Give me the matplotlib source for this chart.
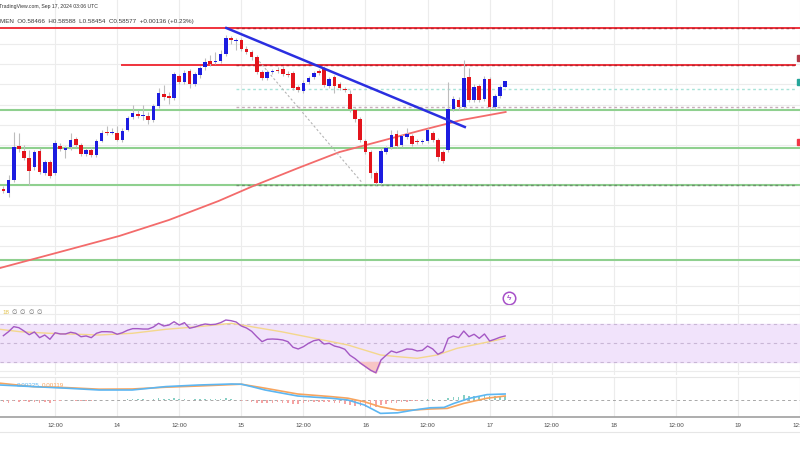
import numpy as np
import matplotlib
matplotlib.use('Agg')
import matplotlib.pyplot as plt
from matplotlib.patches import Rectangle
from matplotlib.lines import Line2D

plt.rcParams['font.family'] = ['Liberation Sans', 'DejaVu Sans']

# hourly candles, x = hours counted from 13 Sep 2024 00:00 UTC
hours = np.arange(2, 100)
opens = [0.5642, 0.5634, 0.5660, 0.5728, 0.5718, 0.5704, 0.5686, 0.5718, 0.5674, 0.5696,
         0.5674, 0.5728, 0.5720, 0.5726, 0.5742, 0.5730, 0.5712, 0.5720, 0.5710, 0.5738,
         0.5756, 0.5754, 0.5754, 0.5740, 0.5760, 0.5786, 0.5792, 0.5788, 0.5788, 0.5780,
         0.5808, 0.5832, 0.5828, 0.5824, 0.5868, 0.5856, 0.5878, 0.5852, 0.5870, 0.5886,
         0.5898, 0.5896, 0.5898, 0.5912, 0.5944, 0.5938, 0.5940, 0.5922, 0.5916, 0.5906,
         0.5876, 0.5864, 0.5876, 0.5880, 0.5882, 0.5872, 0.5874, 0.5846, 0.5838, 0.5856,
         0.5866, 0.5878, 0.5882, 0.5848, 0.5866, 0.5852, 0.5842, 0.5832, 0.5800, 0.5782,
         0.5738, 0.5716, 0.5674, 0.5654, 0.5716, 0.5726, 0.5752, 0.5730, 0.5746, 0.5748,
         0.5738, 0.5736, 0.5738, 0.5754, 0.5740, 0.5716, 0.5720, 0.5802, 0.5820, 0.5806,
         0.5866, 0.5820, 0.5848, 0.5822, 0.5862, 0.5806, 0.5828, 0.58466]
highs = [0.5648, 0.5670, 0.5756, 0.5754, 0.5730, 0.5720, 0.5720, 0.5724, 0.5700, 0.5700,
         0.5740, 0.5734, 0.5728, 0.5754, 0.5746, 0.5734, 0.5724, 0.5726, 0.5742, 0.5760,
         0.5768, 0.5764, 0.5768, 0.5764, 0.5788, 0.5810, 0.5800, 0.5810, 0.5796, 0.5812,
         0.5844, 0.5850, 0.5836, 0.5876, 0.5872, 0.5880, 0.5882, 0.5876, 0.5888, 0.5904,
         0.5910, 0.5916, 0.5920, 0.5950, 0.5948, 0.5944, 0.5944, 0.5928, 0.5920, 0.5910,
         0.5880, 0.5880, 0.5882, 0.5886, 0.5888, 0.5878, 0.5878, 0.5850, 0.5860, 0.5868,
         0.5878, 0.5882, 0.5888, 0.5866, 0.5870, 0.5856, 0.5846, 0.5840, 0.5804, 0.5786,
         0.5742, 0.5720, 0.5678, 0.5724, 0.5728, 0.5760, 0.5760, 0.5752, 0.5764, 0.5752,
         0.5742, 0.5742, 0.5764, 0.5758, 0.5744, 0.5720, 0.5856, 0.5828, 0.5826, 0.5900,
         0.5884, 0.5852, 0.5852, 0.5868, 0.5866, 0.5832, 0.5850, 0.58588]
lows = [0.5634, 0.5626, 0.5656, 0.5716, 0.5700, 0.5650, 0.5680, 0.5672, 0.5670, 0.5664,
        0.5670, 0.5718, 0.5704, 0.5720, 0.5726, 0.5708, 0.5708, 0.5706, 0.5706, 0.5736,
        0.5750, 0.5752, 0.5738, 0.5736, 0.5758, 0.5782, 0.5784, 0.5780, 0.5772, 0.5776,
        0.5804, 0.5820, 0.5812, 0.5820, 0.5852, 0.5852, 0.5844, 0.5848, 0.5864, 0.5880,
        0.5888, 0.5892, 0.5894, 0.5908, 0.5932, 0.5920, 0.5918, 0.5912, 0.5900, 0.5872,
        0.5860, 0.5860, 0.5872, 0.5874, 0.5868, 0.5866, 0.5840, 0.5836, 0.5834, 0.5852,
        0.5862, 0.5870, 0.5846, 0.5844, 0.5834, 0.5840, 0.5836, 0.5796, 0.5776, 0.5736,
        0.5712, 0.5664, 0.5650, 0.5650, 0.5712, 0.5722, 0.5724, 0.5726, 0.5742, 0.5728,
        0.5732, 0.5732, 0.5734, 0.5736, 0.5698, 0.5694, 0.5716, 0.5798, 0.5800, 0.5802,
        0.5816, 0.5816, 0.5816, 0.5818, 0.5802, 0.5802, 0.5824, 0.58454]
closes = [0.5638, 0.5660, 0.5726, 0.5722, 0.5704, 0.5678, 0.5716, 0.5676, 0.5696, 0.5668,
          0.5734, 0.5722, 0.5724, 0.5740, 0.5730, 0.5712, 0.5720, 0.5710, 0.5738, 0.5754,
          0.5754, 0.5756, 0.5740, 0.5758, 0.5784, 0.5794, 0.5788, 0.5790, 0.5780, 0.5808,
          0.5834, 0.5826, 0.5824, 0.5872, 0.5856, 0.5874, 0.5852, 0.5872, 0.5884, 0.5896,
          0.5892, 0.5898, 0.5912, 0.5944, 0.5940, 0.5940, 0.5922, 0.5916, 0.5906, 0.5876,
          0.5864, 0.5876, 0.5878, 0.5878, 0.5872, 0.5870, 0.5844, 0.5840, 0.5854, 0.5864,
          0.5874, 0.5874, 0.5850, 0.5862, 0.5848, 0.5844, 0.5840, 0.5802, 0.5782, 0.5740,
          0.5716, 0.5674, 0.5654, 0.5718, 0.5724, 0.5750, 0.5728, 0.5748, 0.5752, 0.5732,
          0.5736, 0.5738, 0.5760, 0.5740, 0.5706, 0.5698, 0.5802, 0.5822, 0.5806, 0.5864,
          0.5820, 0.5846, 0.5820, 0.5862, 0.5806, 0.5828, 0.5846, 0.58577]

# moving average (red curve), read at a few points
ma_hours = [1.35, 12.9, 24.4, 34.0, 43.6, 50.3, 59.0, 67.0, 74.3, 83.0, 90.6, 99.1]
ma_vals = [0.5484, 0.5516, 0.5548, 0.5580, 0.5618, 0.5648, 0.5684, 0.5716, 0.5736, 0.5760, 0.5780, 0.5796]

# drawn levels
red_full = 0.5964
red_part, red_part_start = 0.5890, 25.0
green_levels = [0.5800, 0.5724, 0.5650, 0.5500]
fib_start = 47.0
dotted_levels = [(0.5964, '#b3262f'), (0.5890, '#b3262f'), (0.5842, '#a8e3d8'),
                 (0.5806, '#c6aeb9'), (0.5650, '#6f8f6f')]
trend_hours, trend_vals = [45.1, 91.2], [0.5964, 0.5766]
diag_hours, diag_vals = [50.9, 71.4], [0.5904, 0.5654]

# RSI (14) and its moving average
rsi = [57.7, 61.9, 67.2, 66.1, 62.6, 58.7, 61.6, 55.6, 58.4, 53.9,
       60.8, 59.5, 59.5, 61.3, 60.2, 56.6, 57.4, 55.6, 60.2, 61.9,
       61.9, 61.6, 59.2, 60.8, 63.4, 65.1, 65.1, 64.7, 64.7, 66.8,
       70.7, 67.9, 68.9, 72.4, 68.9, 71.4, 65.5, 66.8, 68.6, 70.0,
       69.3, 69.7, 71.4, 74.2, 73.5, 72.1, 67.9, 65.8, 62.3, 56.6,
       51.4, 53.9, 54.2, 53.9, 53.2, 51.4, 45.5, 43.7, 46.1, 49.7,
       52.4, 53.5, 48.9, 49.7, 46.8, 45.5, 43.4, 37.1, 33.5, 28.9,
       25.1, 21.3, 18.7, 32.1, 37.1, 41.6, 39.8, 41.6, 43.7, 43.4,
       41.6, 42.3, 46.8, 43.7, 38.1, 40.8, 54.9, 57.4, 55.6, 62.6,
       56.6, 59.2, 54.9, 59.5, 52.1, 53.9, 56.0, 57.4]
rsi_ma_hours = [1.35, 5.2, 10.9, 20.5, 26.9, 33.4, 39.7, 46.1, 49.9, 55.7,
                62.2, 68.6, 74.9, 78.2, 82.0, 85.9, 89.7, 96.0, 98.9]
rsi_ma = [64.4, 61.9, 60.2, 58.4, 60.2, 64.4, 67.2, 70.7, 67.2, 61.9,
          54.9, 47.9, 37.4, 35.6, 33.9, 37.4, 44.4, 51.4, 54.9]

# MACD
macd_hours = [1.35, 7.7, 14.2, 20.5, 26.9, 33.4, 39.8, 46.1, 48.0, 50.0, 52.6, 58.9, 62.2,
              65.3, 68.6, 71.8, 74.9, 78.2, 81.4, 84.5, 87.2, 89.1, 92.2, 95.5, 99.0]
macd = [0.0075, 0.0067, 0.0059, 0.0050, 0.0050, 0.0067, 0.0075, 0.0080, 0.0079, 0.0067, 0.0050,
        0.0020, 0.0014, 0.0009, 0.0000, -0.0025, -0.0067, -0.0064, -0.0050, -0.0039, -0.0037,
        -0.0017, 0.0009, 0.0027, 0.0030]
signal_hours = [1.35, 7.7, 14.2, 20.5, 26.9, 33.4, 39.8, 46.1, 48.0, 52.6, 58.9, 65.3, 68.6,
                71.8, 74.9, 78.2, 81.4, 84.5, 87.8, 91.0, 95.5, 99.0]
signal = [0.0084, 0.0067, 0.0062, 0.0054, 0.0055, 0.0064, 0.0070, 0.0077, 0.0079, 0.0059, 0.0030,
          0.0017, 0.0009, -0.0009, -0.0034, -0.0050, -0.0050, -0.0045, -0.0042, -0.0017, 0.0009, 0.0020]
hist = [-0.0010, -0.0015, -0.0005, -0.0010, -0.0005, -0.0010, -0.0010, -0.0015, -0.0010, -0.0015,
        -0.0005, -0.0005, 0.0, 0.00025, -0.00025, -0.0005, -0.0005, -0.00025, 0.00025, 0.00025,
        0.00025, 0.00025, 0.0, 0.00025, 0.0005, 0.00075, 0.0005, 0.0005, 0.00025, 0.0005,
        0.001, 0.00075, 0.0005, 0.001, 0.00075, 0.00075, 0.00025, 0.0005, 0.0005, 0.00075,
        0.0005, 0.0005, 0.0005, 0.001, 0.0005, 0.00025, -0.00025, -0.0005, -0.00075, -0.00125,
        -0.0015, -0.00125, -0.00125, -0.001, -0.00125, -0.00125, -0.00175, -0.00175, -0.0015, -0.001,
        -0.00075, -0.00075, -0.001, -0.001, -0.00125, -0.0015, -0.00175, -0.00225, -0.00275, -0.003,
        -0.00325, -0.0035, -0.0035, -0.0025, -0.002, -0.0015, -0.00125, -0.001, -0.00075, -0.0005,
        -0.00025, 0.00025, 0.0005, 0.0005, 0.00025, 0.00025, 0.00125, 0.0015, 0.0015, 0.0025,
        0.00225, 0.00225, 0.002, 0.0025, 0.002, 0.002, 0.002, 0.00225]

tick_hours = list(range(12, 168, 12))
tick_labels = ['12:00', '14', '12:00', '15', '12:00', '16', '12:00', '17',
               '12:00', '18', '12:00', '19', '12:00']

W, H = 800, 450
fig = plt.figure(figsize=(8, 4.5), dpi=100)


def pane(top, bottom):
    return fig.add_axes([0, 1 - bottom / H, 1, (bottom - top) / H])


ax = pane(0, 304)
ax_rsi = pane(305, 375)
ax_macd = pane(377, 417)

for a in (ax, ax_rsi, ax_macd):
    a.set_xlim(1.35, 155.0)
    for s in a.spines.values():
        s.set_visible(False)
    a.set_yticks([])
    a.set_xticks(tick_hours)
    a.tick_params(length=0, labelbottom=False)
    a.grid(axis='x', color='#ececec', lw=0.8)
    a.set_axisbelow(True)

# ---- price pane
ax.set_ylim(0.5412, 0.6020)
for g in np.arange(0.5448, 0.5935, 0.004033):
    ax.axhline(g, color='#ececec', lw=0.8, zorder=0)

ax.axhline(red_full, color='#f0323c', lw=1.4, zorder=2)
ax.plot([red_part_start, 155], [red_part, red_part], color='#f0323c', lw=1.4, zorder=2)
for lv in green_levels:
    ax.axhline(lv, color='#8fd08f', lw=1.5, zorder=2)
for lv, c in dotted_levels:
    ax.plot([fib_start, 155], [lv, lv], color=c, lw=1.0, dashes=(2, 2), zorder=2)

ax.plot(ma_hours, ma_vals, color='#f36b6b', lw=1.3, zorder=3)
ax.plot(diag_hours, diag_vals, color='#b5b5b5', lw=0.8, dashes=(2, 2), zorder=3)

o = np.array(opens)
c = np.array(closes)
up = c >= o
body = np.where(np.abs(c - o) < 0.0002, np.where(up, 0.0002, -0.0002), c - o)
colors = np.where(up, '#1c1ce0', '#e3141c')
ax.vlines(hours, lows, highs, color='#bdbdbd', lw=0.8, zorder=4)
ax.bar(hours, body, bottom=o, width=0.7, color=colors, zorder=5)

ax.plot(trend_hours, trend_vals, color='#2a2ee0', lw=1.8, zorder=6)

# lightning icon
ax.plot(99.8, 0.5424, marker='o', ms=9, mfc='white', mec='#a64fc8', mew=1.1,
        clip_on=False, zorder=7)
ax.text(99.8, 0.5424, 'ϟ', color='#a64fc8', fontsize=6, ha='center', va='center',
        fontweight='bold', zorder=8)

# ---- RSI pane
ax_rsi.set_ylim(16.3, 90)
for g in (20, 40, 60, 80):
    ax_rsi.axhline(g, color='#ececec', lw=0.8, zorder=0)
ax_rsi.axhspan(30, 70, color='#f1e3fb', zorder=1)
for g in (30, 50, 70):
    ax_rsi.axhline(g, color='#c9b6d6', lw=0.8, dashes=(3, 3), zorder=2)
rsi_arr = np.array(rsi)
ax_rsi.fill_between(hours, rsi_arr, 30, where=rsi_arr < 30, interpolate=True,
                    color='#f8c5c5', zorder=2)
ax_rsi.plot(rsi_ma_hours, rsi_ma, color='#f4d78c', lw=1.0, zorder=3)
ax_rsi.plot(hours, rsi, color='#a458c4', lw=1.0, zorder=4)

# ---- MACD pane
ax_macd.set_ylim(-0.0085, 0.0115)
ax_macd.axhline(0, color='#a8a8a8', lw=0.7, dashes=(3, 3), zorder=1)
hist_arr = np.array(hist)
ax_macd.bar(hours, hist_arr, width=0.3, color=np.where(hist_arr >= 0, '#86cfc4', '#f5a3a3'),
            zorder=2)
ax_macd.plot(signal_hours, signal, color='#f7a45e', lw=1.2, zorder=3)
ax_macd.plot(macd_hours, macd, color='#5cb6f2', lw=1.2, zorder=4)
ax_macd.spines['bottom'].set_visible(True)
ax_macd.spines['bottom'].set_color('#a0a0a0')
ax_macd.spines['bottom'].set_linewidth(1.2)
ax_macd.set_xticklabels(tick_labels)
ax_macd.tick_params(labelbottom=True, labelsize=4.5, labelcolor='#4a4a4a', pad=4)

# separators
for yy in (305, 377, 432):
    fig.add_artist(Line2D([0, 1], [1 - yy / H] * 2, color='#e6e6e6', lw=0.8,
                          transform=fig.transFigure))

# header texts
fig.text(-1 / W, 1 - 6.5 / H, 'TradingView.com, Sep 17, 2024 03:06 UTC', fontsize=3.7,
         color='#333333', va='center', ha='left')
fig.text(0, 1 - 21.7 / H, 'MEN  O0.58466  H0.58588  L0.58454  C0.58577  +0.00136 (+0.23%)',
         fontsize=4.5, color='#3a3a3a', va='center', ha='left')

# indicator legends
fig.text(2 / W, 1 - 313 / H, '18', fontsize=4.5, color='#e2c24f', va='center')
for xx in (12, 20, 28.5, 37):
    fig.text(xx / W, 1 - 313 / H, '∅', fontsize=4.5, color='#666666', va='center')
fig.text(17 / W, 1 - 385.7 / H, '0.00325', fontsize=4.5, color='#5cb6f2', va='center')
fig.text(42 / W, 1 - 385.7 / H, '0.00119', fontsize=4.5, color='#f7a45e', va='center')

# price-scale tags cut at the right edge
for yy, col in ((58, '#b23a48'), (82, '#26a69a'), (142, '#f23645')):
    fig.add_artist(Rectangle((797 / W, 1 - (yy + 3) / H), 3 / W, 6 / H, color=col,
                             transform=fig.transFigure))

fig.savefig('out.png', dpi=100)
